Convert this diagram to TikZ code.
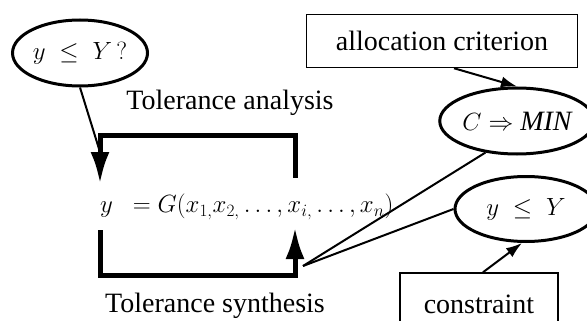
\documentclass[tikz,border=0pt]{standalone}
\usepackage{fontspec}
\setmainfont{Liberation Serif}
\usetikzlibrary{shapes.geometric, positioning, arrows.meta, calc}

\begin{document}
\begin{tikzpicture}[
    x=1pt,y=-1pt,
    txt/.style={font=\fontsize{28}{30}\selectfont, inner sep=0pt},
    oval/.style={draw, ellipse, line width=3pt, minimum width=135pt, minimum height=66pt, inner sep=0pt, font=\fontsize{28}{30}\selectfont},
    boxnode/.style={draw, rectangle, line width=1.5pt, inner sep=0pt, font=\fontsize{28}{30}\selectfont},
    loopline/.style={line width=5pt, line cap=rect, -{Latex[length=32pt,width=19pt]}},
    link/.style={line width=2pt},
    arrow/.style={line width=2pt, -{Latex[length=16pt,width=11pt]}}
]
    \useasboundingbox (0,0) rectangle (587,321);
    \clip (0,0) rectangle (587,321);

    % --- left part: analysis / synthesis loop ---
    \node[oval] (q1) at (80,53) {$y\ \leq\ Y\,?$};
    \node[txt] (ana) at (230,103) {Tolerance analysis};
    \node[txt, anchor=west, font=\fontsize{26}{30}\selectfont] (eq) at (100,207) {$y\ \ = G(x_{1,}x_{2,}\ldots,x_{i,}\ldots,x_n)$};
    \node[txt] (syn) at (215,306) {Tolerance synthesis};

    \coordinate (tl) at (100,135);
    \coordinate (tr) at (295,135);
    \coordinate (bl) at (100,275);
    \coordinate (br) at (295,275);

    \draw[loopline] ($(tr)+(0,40)$) -- (tr) -- (tl) -- ($(tl)+(0,49)$);
    \draw[loopline] ($(bl)+(0,-43)$) -- (bl) -- (br) -- ($(br)+(0,-48)$);
    \draw[link] (q1.south) -- ($(tl)+(0,17)$);

    % --- right part: criterion and constraint ---
    \node[boxnode, minimum width=271pt, minimum height=53pt] (crit) at (442,41) {allocation criterion};
    \node[oval, minimum width=140pt] (cmin) at (517,121) {$C \Rightarrow \mathit{MIN}$};
    \node[oval, minimum width=142pt, minimum height=65pt] (q2) at (526,209) {$y\ \leq\ Y$};
    \node[boxnode, minimum width=158pt, minimum height=62pt] (cons) at (479,304) {constraint};

    \coordinate (fork) at (303,266);
    \draw[link] (fork) -- (cmin.-135);
    \draw[link] (fork) -- (q2.west);
    \draw[arrow] ([xshift=12pt]crit.south) -- (cmin.north);
    \draw[arrow] ([xshift=4pt]cons.north) -- ([xshift=-4pt]q2.south);
\end{tikzpicture}
\end{document}
